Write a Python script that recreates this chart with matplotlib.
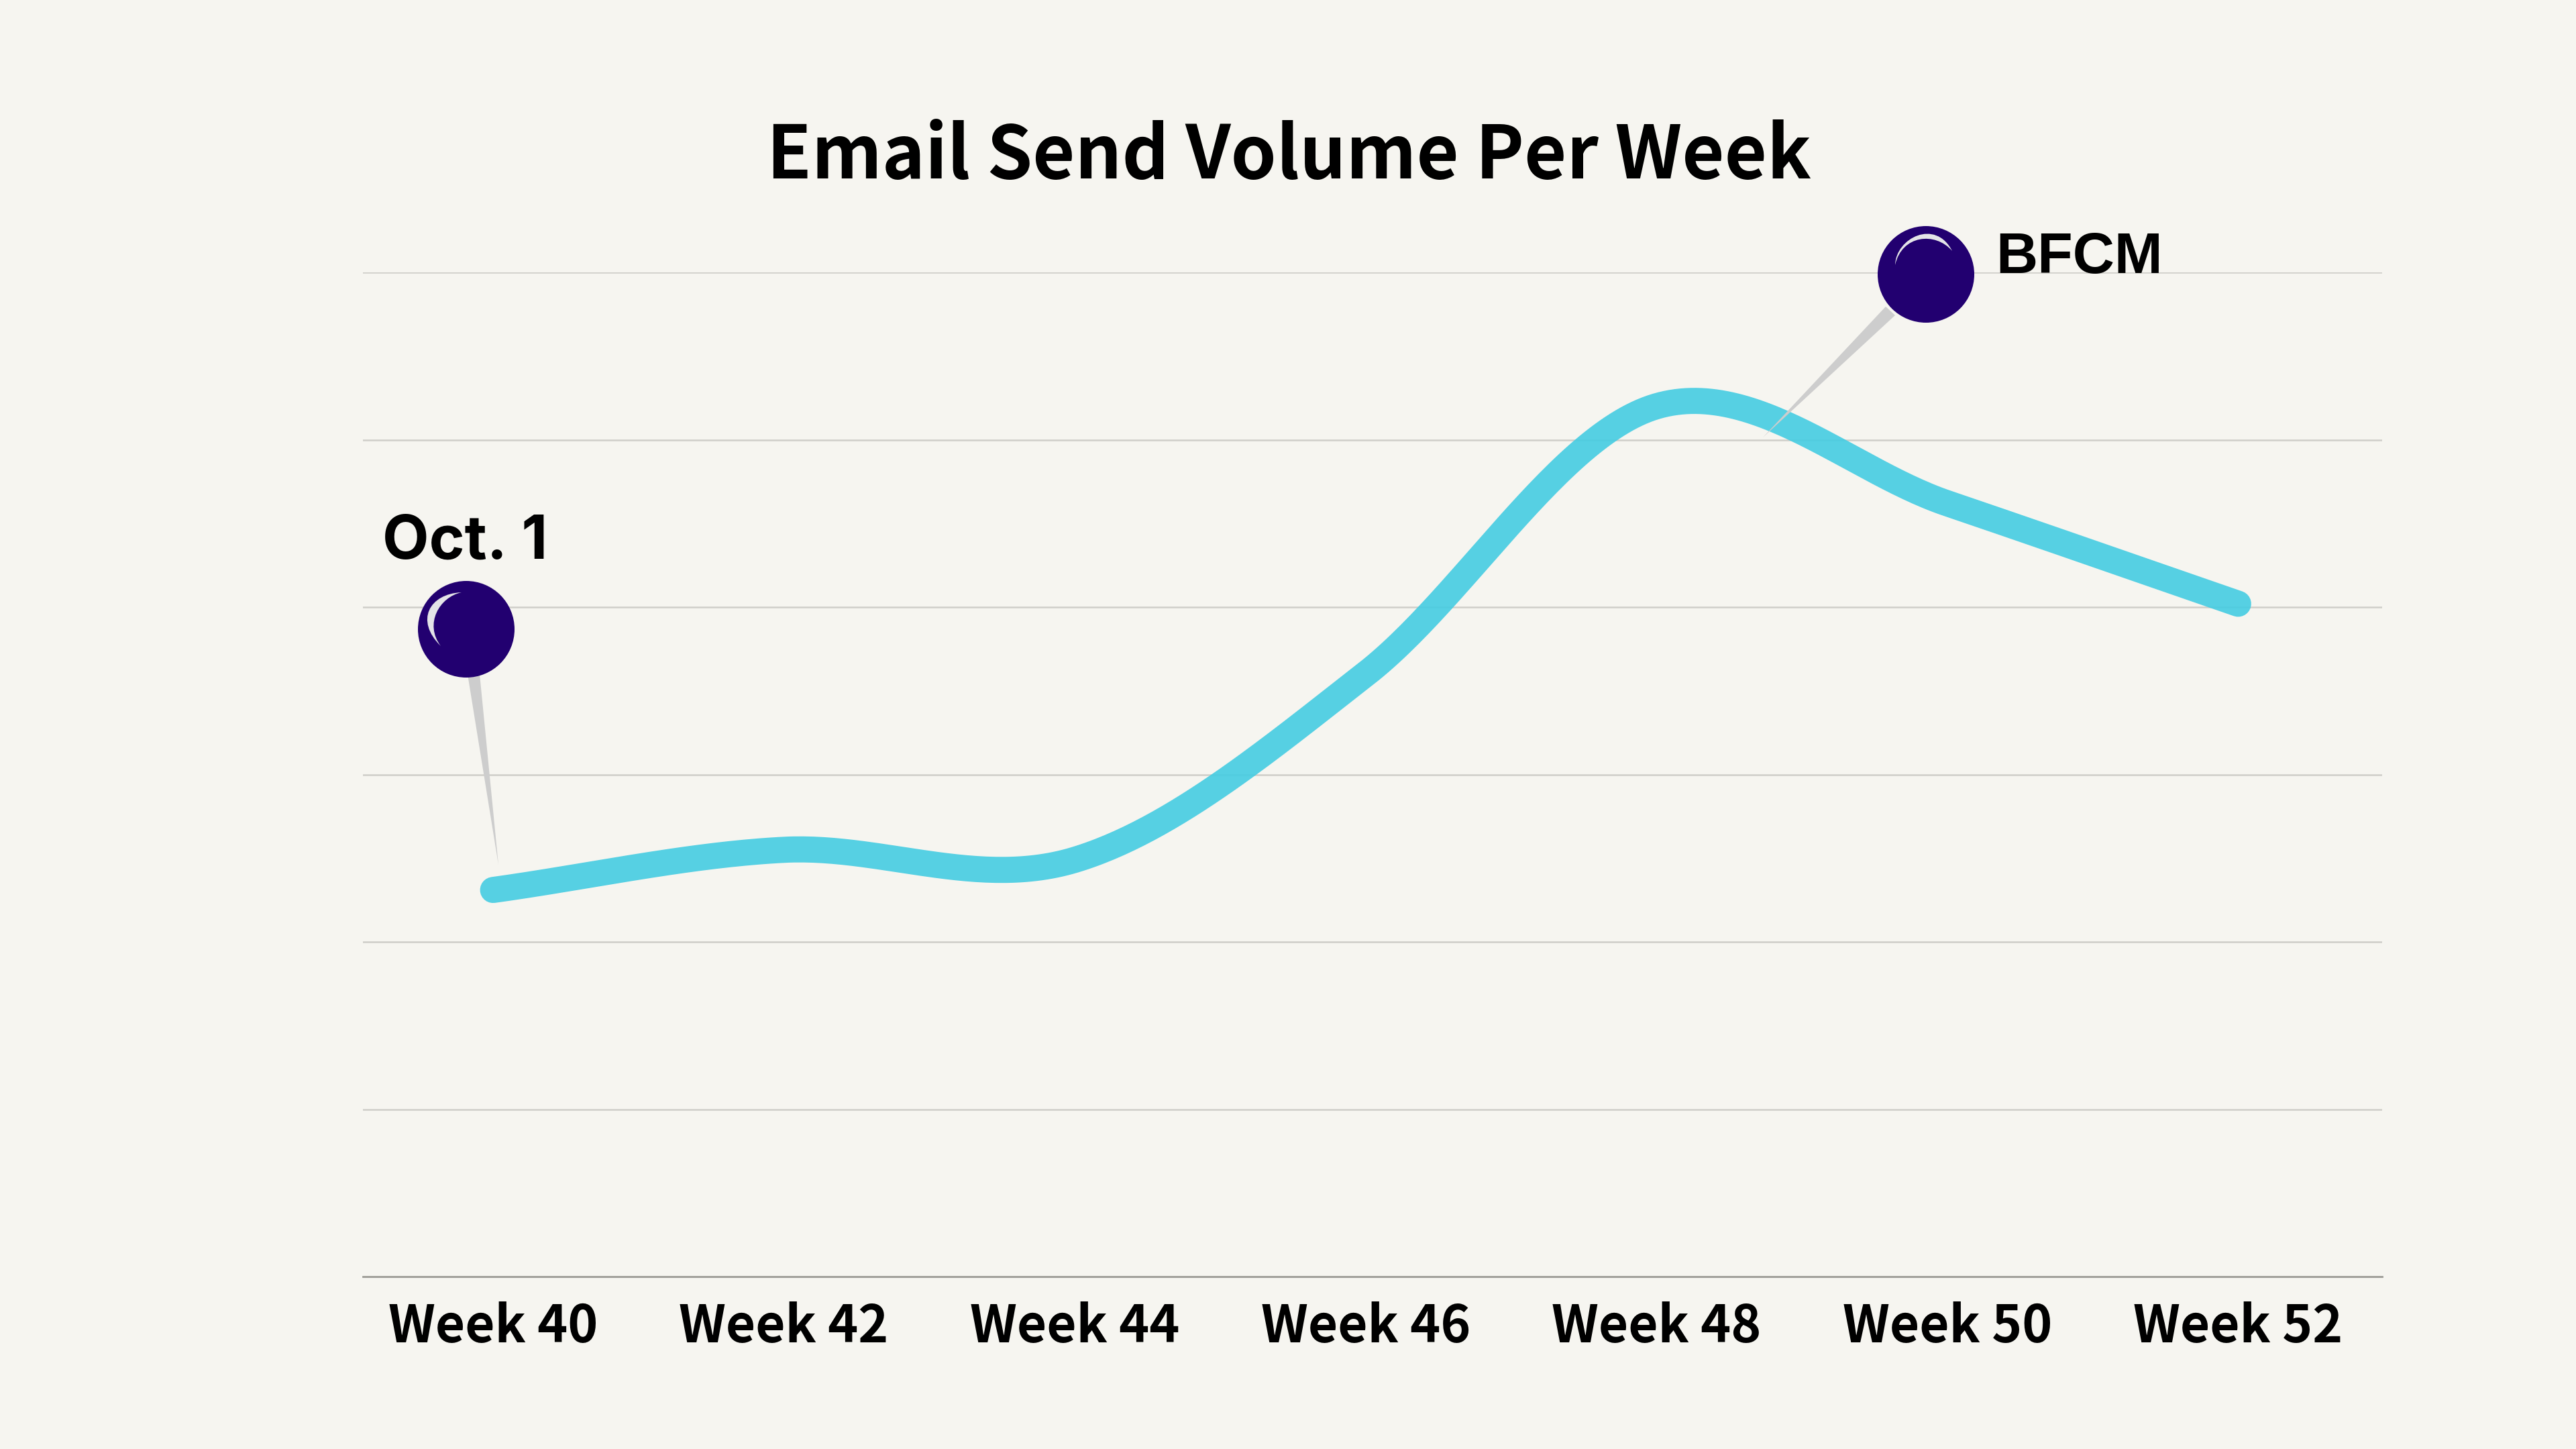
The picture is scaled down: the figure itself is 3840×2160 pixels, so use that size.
import matplotlib
matplotlib.use('Agg')
import matplotlib.pyplot as plt
import numpy as np
from matplotlib.patches import Circle, Polygon, PathPatch
from matplotlib.path import Path

# values (no y labels in the source, so gridline steps = 1)
weeks = [40, 42, 44, 46, 48, 50, 52]
volume = [2.31, 2.55, 2.49, 3.60, 5.20, 4.62, 4.02]
tick_labels = ['Week 40', 'Week 42', 'Week 44', 'Week 46', 'Week 48', 'Week 50', 'Week 52']
grid_levels = [1, 2, 3, 4, 5, 6]

BG = '#F6F5F0'
LINE = '#44CCE2'
PIN = '#220070'
NEEDLE = '#CDCDCD'
SHINE = '#E4E4E8'
FONT = 'Noto Sans CJK SC'


def smooth(x, y, n=60):
    # cubic hermite between the weeks, gives the rounded line of the original
    x = np.array(x, dtype=float)
    y = np.array(y, dtype=float)
    m = np.gradient(y, x)
    xs = []
    ys = []
    for i in range(len(x) - 1):
        h = x[i + 1] - x[i]
        t = np.linspace(0, 1, n)
        xs.append(x[i] + t * h)
        ys.append((2*t**3 - 3*t**2 + 1) * y[i] + (t**3 - 2*t**2 + t) * h * m[i]
                  + (-2*t**3 + 3*t**2) * y[i + 1] + (t**3 - t**2) * h * m[i + 1])
    return np.concatenate(xs), np.concatenate(ys)


def pin(ov, center, base, tip, shine_pts):
    ov.add_patch(Polygon([base[0], base[1], tip], closed=True, fc=NEEDLE, ec='none', zorder=3))
    ov.add_patch(Circle(center, 72, fc=PIN, ec='none', zorder=4))
    codes = [Path.MOVETO] + [Path.CURVE4] * 6
    ov.add_patch(PathPatch(Path(shine_pts, codes), fc=SHINE, ec='none', zorder=5))


fig = plt.figure(figsize=(19.2, 10.8), dpi=200, facecolor=BG)
ax = fig.add_axes([541 / 3840, (2160 - 1903) / 2160, 3010 / 3840, 1497 / 2160])
ax.set_facecolor(BG)
ax.set_xlim(39.105, 52.99)
ax.set_ylim(0, 6)

for level in grid_levels:
    ax.axhline(level, color='#CFCEC9', lw=0.9, zorder=1)
xs, ys = smooth(weeks, volume)
ax.plot(xs, ys, color=LINE, lw=14, alpha=0.9, solid_capstyle='round', zorder=2)

ax.set_xticks(weeks)
ax.set_xticklabels(tick_labels, fontname=FONT, fontweight='bold', fontsize=27.5, color='black')
ax.set_yticks([])
ax.tick_params(axis='x', length=0, pad=13)
for side in ['top', 'left', 'right']:
    ax.spines[side].set_visible(False)
ax.spines['bottom'].set_color('#9B9A94')
ax.spines['bottom'].set_linewidth(1.0)
ax.set_title('Email Send Volume Per Week', fontname=FONT, fontweight='bold', fontsize=39.2,
             color='black', pad=50.5, x=(1921 - 541) / 3010)

# overlay in picture pixels for the pins and their labels
ov = fig.add_axes([0, 0, 1, 1])
ov.set_xlim(0, 3840)
ov.set_ylim(2160, 0)
ov.axis('off')
ov.patch.set_alpha(0)

pin(ov, (695, 938), [(697, 1005), (715, 1005)], (743, 1289),
    [(688, 883), (640, 885), (618, 925), (657, 963), (632, 930), (655, 890), (688, 883)])
pin(ov, (2871, 409), [(2811, 457), (2825, 470)], (2628, 652),
    [(2825, 395), (2826, 355), (2885, 325), (2910, 374), (2885, 345), (2835, 350), (2825, 395)])

ov.text(693, 833, 'Oct. 1', fontname='Inter', fontweight='bold', fontsize=32.5, color='black',
        ha='center', va='baseline')
ov.text(3100, 407, 'BFCM', fontname='Liberation Sans', fontweight='bold', fontsize=31, color='black',
        ha='center', va='baseline')

fig.savefig('out.png', dpi=200, facecolor=BG)
